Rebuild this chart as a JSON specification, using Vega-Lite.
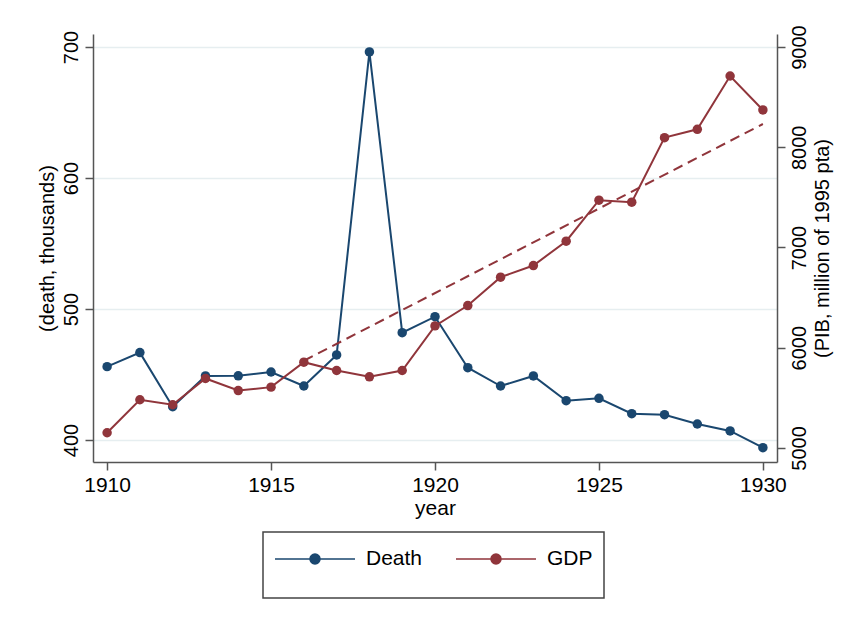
{
  "$schema": "https://vega.github.io/schema/vega-lite/v6.json",
  "width": 684,
  "height": 428,
  "autosize": {"type": "none"},
  "padding": {"left": 93, "top": 34, "right": 69, "bottom": 156},
  "background": "white",
  "config": {
    "view": {"stroke": null},
    "font": "Liberation Sans",
    "axis": {
      "domainColor": "#555555",
      "domainWidth": 1.5,
      "tickColor": "#555555",
      "tickWidth": 1.5,
      "tickSize": 8,
      "labelColor": "black",
      "titleColor": "black",
      "titleFontWeight": "normal",
      "labelFont": "Liberation Sans",
      "titleFont": "Liberation Sans"
    }
  },
  "datasets": {
    "main": [
      {"year": 1910, "death": 456.0, "gdp": 5152},
      {"year": 1911, "death": 466.7, "gdp": 5481},
      {"year": 1912, "death": 425.4, "gdp": 5431},
      {"year": 1913, "death": 448.9, "gdp": 5693},
      {"year": 1914, "death": 449.0, "gdp": 5573},
      {"year": 1915, "death": 451.9, "gdp": 5607},
      {"year": 1916, "death": 441.2, "gdp": 5856},
      {"year": 1917, "death": 464.9, "gdp": 5773},
      {"year": 1918, "death": 696.2, "gdp": 5710},
      {"year": 1919, "death": 481.9, "gdp": 5773},
      {"year": 1920, "death": 494.1, "gdp": 6218},
      {"year": 1921, "death": 455.2, "gdp": 6421},
      {"year": 1922, "death": 441.2, "gdp": 6704},
      {"year": 1923, "death": 448.9, "gdp": 6820},
      {"year": 1924, "death": 430.0, "gdp": 7063},
      {"year": 1925, "death": 431.8, "gdp": 7472},
      {"year": 1926, "death": 420.1, "gdp": 7452},
      {"year": 1927, "death": 419.3, "gdp": 8096},
      {"year": 1928, "death": 412.2, "gdp": 8179},
      {"year": 1929, "death": 406.9, "gdp": 8711},
      {"year": 1930, "death": 394.1, "gdp": 8372}
    ],
    "trend": [
      {"year": 1916, "fit": 5870},
      {"year": 1930, "fit": 8232}
    ]
  },
  "layer": [
    {
      "data": {"name": "main"},
      "mark": {"type": "line", "strokeWidth": 2, "point": {"filled": true, "size": 90}},
      "encoding": {
        "x": {
          "field": "year", "type": "quantitative",
          "scale": {"domain": [1909.57, 1930.43], "nice": false, "zero": false},
          "axis": {"values": [1910, 1915, 1920, 1925, 1930], "format": "d", "title": "year",
                   "labelFontSize": 21, "titleFontSize": 21, "grid": false, "labelPadding": 4, "titlePadding": 2}
        },
        "y": {
          "field": "death", "type": "quantitative",
          "scale": {"domain": [383.2, 709.9], "nice": false, "zero": false},
          "axis": {"orient": "left", "values": [400, 500, 600, 700], "title": "(death, thousands)",
                   "labelAngle": 270, "labelFontSize": 20, "titleFontSize": 20, "labelPadding": 4, "titlePadding": 4,
                   "grid": true, "gridColor": "#e6eef0", "gridWidth": 1.5}
        },
        "color": {
          "datum": "Death",
          "type": "nominal",
          "scale": {"domain": ["Death", "GDP"], "range": ["#1a476f", "#90353b"]},
          "legend": {
            "orient": "none",
            "legendX": 170,
            "legendY": 498,
            "direction": "horizontal",
            "title": " ",
            "titleOrient": "bottom",
            "titleFontSize": 14,
            "titlePadding": 4,
            "padding": 11,
            "strokeColor": "#444444",
            "symbolType": "M -1 0 L 4.333 0 M 2 0 A 0.333 0.333 0 1 1 1.333 0 A 0.333 0.333 0 1 1 2 0 Z",
            "symbolSize": 900,
            "symbolStrokeWidth": 1.5,
            "labelFontSize": 21,
            "labelColor": "black",
            "labelOffset": 60,
            "columnPadding": 30,
            "encode": {
              "symbols": {"update": {"fill": {"scale": "color", "field": "value"}, "stroke": {"scale": "color", "field": "value"}, "opacity": {"value": 1}}},
              "legend": {"update": {"strokeWidth": {"value": 1.5}}}
            }
          }
        }
      }
    },
    {
      "layer": [
        {
          "data": {"name": "main"},
          "mark": {"type": "line", "strokeWidth": 2, "point": {"filled": true, "size": 90}},
          "encoding": {
            "x": {"field": "year", "type": "quantitative"},
            "y": {
              "field": "gdp", "type": "quantitative",
              "scale": {"domain": [4860, 9130], "nice": false, "zero": false},
              "axis": {"orient": "right", "values": [5000, 6000, 7000, 8000, 9000], "format": "d", "title": "(PIB, million of 1995 pta)",
                       "labelAngle": 270, "titleAngle": 270, "titleBaseline": "top", "labelFontSize": 20, "titleFontSize": 20,
                       "labelPadding": 4, "titlePadding": 3, "grid": false}
            },
            "color": {"datum": "GDP", "type": "nominal"}
          }
        },
        {
          "data": {"name": "trend"},
          "mark": {"type": "line", "color": "#90353b", "strokeWidth": 2, "strokeDash": [10, 6]},
          "encoding": {
            "x": {"field": "year", "type": "quantitative"},
            "y": {"field": "fit", "type": "quantitative"}
          }
        }
      ]
    }
  ],
  "resolve": {"scale": {"y": "independent"}}
}
